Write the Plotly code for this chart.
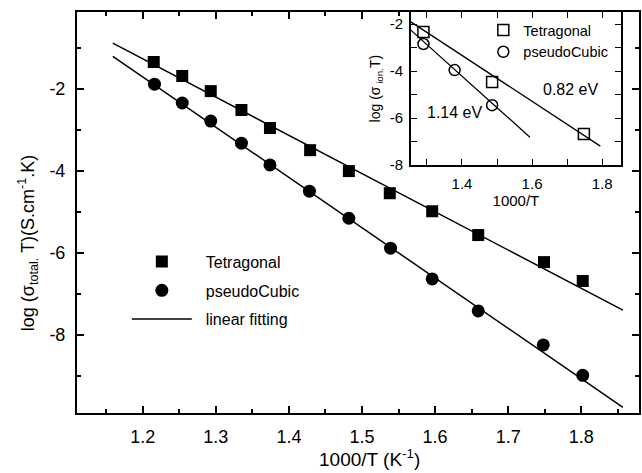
import plotly.graph_objects as go

# ---- main panel data (total conductivity) ----
tet_x = [1.215, 1.254, 1.293, 1.335, 1.374, 1.429, 1.482, 1.538, 1.596, 1.659, 1.749, 1.802]
tet_y = [-1.34, -1.68, -2.05, -2.51, -2.95, -3.49, -4.00, -4.54, -4.98, -5.56, -6.22, -6.68]
cub_x = [1.216, 1.254, 1.293, 1.335, 1.374, 1.428, 1.482, 1.539, 1.596, 1.659, 1.748, 1.802]
cub_y = [-1.88, -2.34, -2.78, -3.32, -3.85, -4.49, -5.15, -5.88, -6.63, -7.41, -8.24, -8.98]
tet_fit_x = [1.159, 1.857]
tet_fit_y = [-0.88, -7.39]
cub_fit_x = [1.159, 1.857]
cub_fit_y = [-1.20, -9.76]

main_xticks = [1.2, 1.3, 1.4, 1.5, 1.6, 1.7, 1.8]
main_xminor = [1.15, 1.25, 1.35, 1.45, 1.55, 1.65, 1.75, 1.85]
main_yticks = [-2, -4, -6, -8]
main_yminor = [-1, -3, -5, -7, -9]

# ---- inset data (ionic conductivity) ----
in_tet_x = [1.290, 1.486, 1.748]
in_tet_y = [-2.34, -4.47, -6.68]
in_cub_x = [1.290, 1.379, 1.486]
in_cub_y = [-2.85, -3.96, -5.45]
in_tet_fit_x = [1.254, 1.795]
in_tet_fit_y = [-1.91, -7.19]
in_cub_fit_x = [1.254, 1.594]
in_cub_fit_y = [-2.26, -6.81]

in_xticks = [1.4, 1.6, 1.8]
in_xminor = [1.3, 1.5, 1.7]
in_yticks = [-2, -4, -6, -8]
in_yminor = [-3, -5, -7]

FONT = "Liberation Sans, Arial, sans-serif"
NB = "\u00a0\u00a0"


def lab(v):
    return ("%g" % v).replace("\u2212", "-")


fig = go.Figure()

# main fits
fig.add_trace(go.Scatter(x=tet_fit_x, y=tet_fit_y, mode="lines", line=dict(color="black", width=1.5),
                         showlegend=False))
fig.add_trace(go.Scatter(x=cub_fit_x, y=cub_fit_y, mode="lines", line=dict(color="black", width=1.5),
                         showlegend=False))
fig.add_trace(go.Scatter(x=tet_x, y=tet_y, mode="markers", name=NB + "Tetragonal", legendrank=1,
                         legendgroup="a", marker=dict(symbol="square", size=12, color="black")))
fig.add_trace(go.Scatter(x=cub_x, y=cub_y, mode="markers", name=NB + "pseudoCubic", legendrank=2,
                         legendgroup="b", marker=dict(symbol="circle", size=13, color="black")))
fig.add_trace(go.Scatter(x=[None], y=[None], mode="lines", line=dict(color="black", width=1.5),
                         name=NB + "linear fitting", legendrank=3, legendgroup="c"))

# inset
fig.add_trace(go.Scatter(x=in_tet_fit_x, y=in_tet_fit_y, mode="lines", xaxis="x2", yaxis="y2",
                         line=dict(color="black", width=1.3), showlegend=False))
fig.add_trace(go.Scatter(x=in_cub_fit_x, y=in_cub_fit_y, mode="lines", xaxis="x2", yaxis="y2",
                         line=dict(color="black", width=1.3), showlegend=False))
fig.add_trace(go.Scatter(x=in_tet_x, y=in_tet_y, mode="markers", xaxis="x2", yaxis="y2",
                         name="Tetragonal", legend="legend2",
                         marker=dict(symbol="square-open", size=11, color="black", line=dict(width=1.5))))
fig.add_trace(go.Scatter(x=in_cub_x, y=in_cub_y, mode="markers", xaxis="x2", yaxis="y2",
                         name="pseudoCubic", legend="legend2",
                         marker=dict(symbol="circle-open", size=11, color="black", line=dict(width=1.5))))

axis_common = dict(showline=True, linecolor="black", mirror="ticks", ticks="inside",
                   tickcolor="black", showgrid=False, zeroline=False)

fig.update_layout(
    width=642, height=473,
    margin=dict(l=77, r=1, t=12, b=60),
    paper_bgcolor="white", plot_bgcolor="white",
    font=dict(family=FONT, color="black"),
    xaxis=dict(axis_common, domain=[0, 1], range=[1.11, 1.879], linewidth=2,
               tickvals=main_xticks, ticktext=[lab(v) for v in main_xticks], ticklen=7, tickwidth=1.5,
               tickfont=dict(family=FONT, size=18, color="black"),
               minor=dict(tickvals=main_xminor, ticklen=4, tickwidth=1.5, tickcolor="black", ticks="inside"),
               ticklabelstandoff=6),
    yaxis=dict(axis_common, domain=[0, 1], range=[-9.9, -0.12], linewidth=2,
               tickvals=main_yticks, ticktext=[lab(v) for v in main_yticks], ticklen=7, tickwidth=1.5,
               tickfont=dict(family=FONT, size=18, color="black"),
               minor=dict(tickvals=main_yminor, ticklen=4, tickwidth=1.5, tickcolor="black", ticks="inside"),
               ticklabelstandoff=6),
    xaxis2=dict(axis_common, domain=[0.594, 0.968], anchor="y2", range=[1.254, 1.854], linewidth=1.5,
                tickvals=in_xticks, ticktext=[lab(v) for v in in_xticks], ticklen=6, tickwidth=1.2,
                minor=dict(tickvals=in_xminor, ticklen=6, tickwidth=1.2, tickcolor="black", ticks="inside"),
                tickfont=dict(family=FONT, size=15, color="black"), ticklabelstandoff=4,
                title=dict(text="1000/T", font=dict(family=FONT, size=15), standoff=4)),
    yaxis2=dict(axis_common, domain=[0.618, 1.0], anchor="x2", range=[-8, -1.49], linewidth=1.5,
                tickvals=in_yticks, ticktext=[lab(v) for v in in_yticks], ticklen=6, tickwidth=1.2,
                minor=dict(tickvals=in_yminor, ticklen=6, tickwidth=1.2, tickcolor="black", ticks="inside"),
                tickfont=dict(family=FONT, size=15, color="black"), ticklabelstandoff=3,
                title=dict(text="log (σ<sub> ion.</sub>T)", font=dict(family=FONT, size=14), standoff=6)),
    legend=dict(x=0.0887, y=0.42, xanchor="left", yanchor="top", bgcolor="rgba(0,0,0,0)",
                font=dict(family=FONT, size=16), itemwidth=60, tracegroupgap=5),
    legend2=dict(x=0.723, y=0.995, xanchor="left", yanchor="top", bgcolor="rgba(0,0,0,0)",
                 font=dict(family=FONT, size=14.5), itemwidth=30),
    annotations=[
        dict(text="0.82 eV", x=1.71, y=-4.77, xref="x2", yref="y2", showarrow=False,
             font=dict(family=FONT, size=16)),
        dict(text="1.14 eV", x=1.38, y=-5.74, xref="x2", yref="y2", showarrow=False,
             font=dict(family=FONT, size=16)),
        dict(text="1000/T (K<sup>-1</sup>)", x=(371 - 77) / 564, y=(413 - 458) / 401,
             xref="paper", yref="paper", showarrow=False, xanchor="center", yanchor="middle",
             font=dict(family=FONT, size=19)),
        dict(text="log (σ<sub>total.</sub> T)(S.cm<sup>-1</sup>.K)", x=(27 - 77) / 564,
             y=(413 - 243) / 401, xref="paper", yref="paper", showarrow=False, textangle=-90,
             xanchor="center", yanchor="middle", font=dict(family=FONT, size=18)),
    ],
)

fig.write_html("out.html")
